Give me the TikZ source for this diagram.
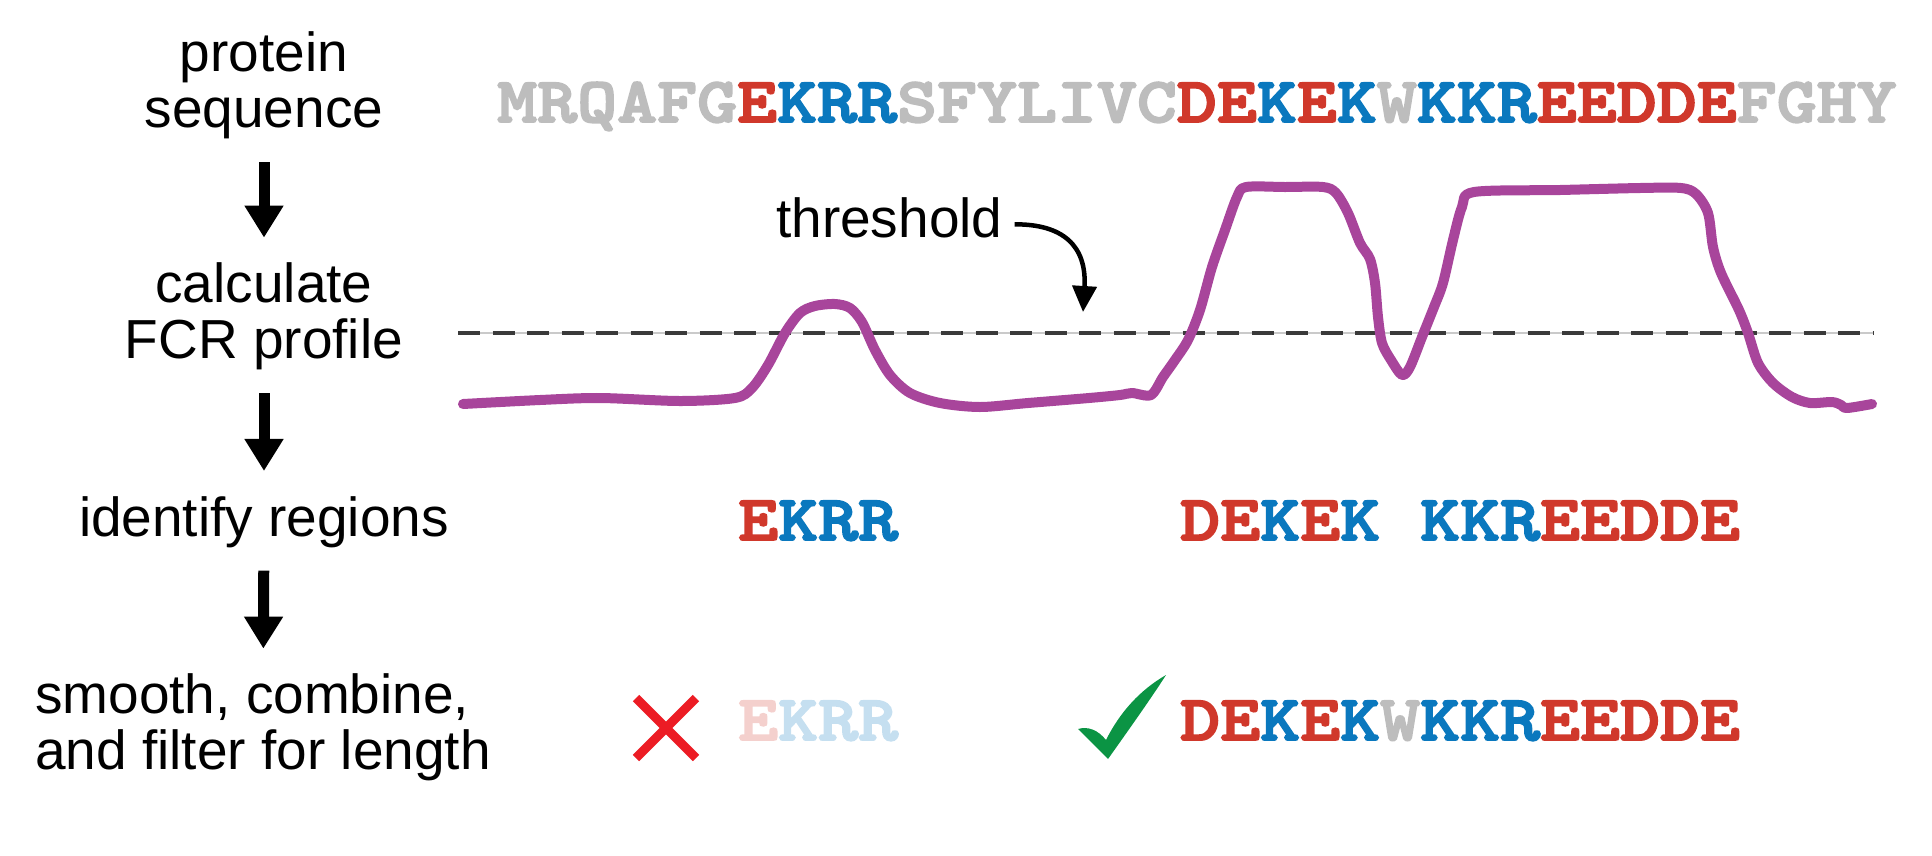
\documentclass[tikz,border=0pt]{standalone}
\usepackage{fontspec}
\setmainfont{Liberation Sans}
\newfontfamily\seqfont{lmmonolt10-bold.otf}[FakeStretch=1.19, FakeBold=3]
\usepackage{xcolor}
\usetikzlibrary{arrows.meta}

\definecolor{chred}{HTML}{D0382B}
\definecolor{chblue}{HTML}{0A78BE}
\definecolor{chgray}{HTML}{BDBDBD}
\definecolor{fadered}{HTML}{F4D0CD}
\definecolor{fadeblue}{HTML}{C5DFF0}
\definecolor{profile}{HTML}{A8459B}
\definecolor{dashgray}{HTML}{3A3A3A}
\definecolor{crossred}{HTML}{EC1C24}
\definecolor{tickgreen}{HTML}{0B9444}

\newcommand{\chneg}[1]{\textcolor{chred}{#1}}
\newcommand{\chpos}[1]{\textcolor{chblue}{#1}}
\newcommand{\chneu}[1]{\textcolor{chgray}{#1}}

\begin{document}
\begin{tikzpicture}[
    x=1pt, y=-1pt,
    stage/.style={font=\fontsize{55}{56}\selectfont, inner sep=0pt, align=center},
    seq/.style={font=\seqfont\fontsize{64}{64}\selectfont, inner sep=0pt},
    flow/.style={->, line width=11pt, shorten <=23pt, shorten >=25pt},
    >={Triangle[width=37pt,length=32pt]}
]
    \useasboundingbox (0,0) rectangle (1932,855);

    % Steps
    \node[stage, anchor=north] (seqlbl) at (264,31.6) {protein\\sequence};
    \node[stage, anchor=north] (fcrlbl) at (264,262.6) {calculate\\FCR profile};
    \node[stage, anchor=base] (idlbl) at (264,536) {identify regions};
    \node[stage, anchor=north west, align=left] (filtlbl) at (35,673.6) {smooth, combine,\\and filter for length};

    \draw[flow] (seqlbl) -- (fcrlbl);
    \draw[flow] (fcrlbl) -- (idlbl);
    \draw[flow] (idlbl) -- (filtlbl);

    % Sequence
    \node[seq, anchor=base west] (seq) at (497,122) {\chneu{MRQAFG}\chneg{E}\chpos{KRR}\chneu{SFYLIVC}\chneg{DE}\chpos{K}\chneg{E}\chpos{K}\chneu{W}\chpos{KKR}\chneg{EEDDE}\chneu{FGHY}};

    % Threshold
    \draw[chgray!80, line width=1.5pt] (458,333) -- (1874,333);
    \draw[dashgray, line width=3.3pt, dash pattern=on 22pt off 12.5pt] (458,333) -- (1874,333);
    \node[stage, anchor=base west] (thresh) at (776,237) {threshold};
    \coordinate (threshtip) at (1083,312);
    \draw[line width=4.5pt, -{Triangle[width=24pt,length=26pt]}] ([xshift=12pt,yshift=-7pt]thresh.east)
        .. controls (1062,224) and (1087,245) .. (threshtip);

    % FCR profile
    \draw[profile, line width=10pt, line cap=round, line join=round] plot[smooth, tension=0.5] coordinates {
        (463,404) (540,400) (600,398) (680,401) (735,398) (752,388) (768,365) (785,333)
        (800,313) (815,306) (835,304) (850,308) (862,322) (875,350) (890,375) (910,393)
        (940,403) (980,407) (1028,403) (1089,398) (1120,395) (1132,393) (1151,395)
        (1163,377) (1175,360) (1188,340) (1200,310) (1212,267) (1225,230) (1237,197)
        (1246,187) (1285,187) (1323,187) (1336,193) (1348,213) (1360,243) (1370,259)
        (1375,283) (1378,317) (1382,343) (1391,360) (1402,375) (1410,367) (1422,337)
        (1434,307) (1443,283) (1453,240) (1462,207) (1474,192) (1560,190) (1640,188)
        (1681,188) (1696,194) (1708,213) (1713,247) (1721,273) (1739,310) (1748,333)
        (1758,363) (1773,383) (1792,397) (1810,403) (1832,402) (1841,405) (1847,408)
        (1872,404)};

    % Regions
    \node[seq, anchor=base west] (reg1) at (738,540) {\chneg{E}\chpos{KRR}};
    \node[seq, anchor=base west] (reg2) at (1180,540) {\chneg{DE}\chpos{K}\chneg{E}\chpos{K} \chpos{KKR}\chneg{EEDDE}};

    % Filtered
    \draw[crossred, line width=9pt] (636,698) -- (696,758) (636,758) -- (696,698);
    \node[seq, anchor=base west] (drop) at (738,740) {\textcolor{fadered}{E}\textcolor{fadeblue}{KRR}};
    \fill[tickgreen] (1078,729) .. controls (1088,726) and (1098,730) .. (1106,740)
        .. controls (1120,712) and (1140,690) .. (1166,675)
        .. controls (1150,700) and (1125,735) .. (1108,759) -- cycle;
    \node[seq, anchor=base west] (keep) at (1180,740) {\chneg{DE}\chpos{K}\chneg{E}\chpos{K}\chneu{W}\chpos{KKR}\chneg{EEDDE}};

\end{tikzpicture}
\end{document}
